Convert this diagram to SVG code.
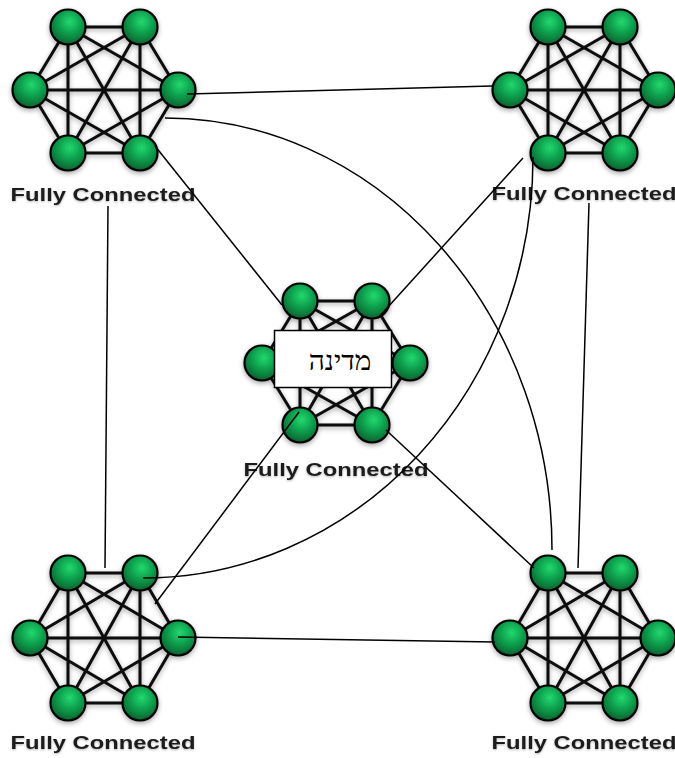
<svg xmlns="http://www.w3.org/2000/svg" xmlns:xlink="http://www.w3.org/1999/xlink" width="675" height="758" viewBox="0 0 675 758">
  <defs>
    <radialGradient id="ball" cx="0.55" cy="0.35" r="0.65">
      <stop offset="0" stop-color="#22d86e"/>
      <stop offset="0.55" stop-color="#0b9a4a"/>
      <stop offset="1" stop-color="#06622f"/>
    </radialGradient>
    <filter id="soft" x="-20%" y="-20%" width="140%" height="140%">
      <feDropShadow dx="0" dy="2" stdDeviation="2.5" flood-color="#000" flood-opacity="0.35"/>
    </filter>
    <filter id="txtsoft" x="-5%" y="-30%" width="110%" height="160%">
      <feDropShadow dx="0" dy="1" stdDeviation="1" flood-color="#000" flood-opacity="0.3"/>
    </filter>
  </defs>
  <style>
    .mesh { stroke: #0a0a0a; stroke-width: 3; fill: none; }
    .ball { fill: url(#ball); stroke: #050505; stroke-width: 2.2; }
    .cap { font-family: "Liberation Sans", Arial, sans-serif; font-weight: bold; font-size: 19px; fill: #1c1c1c; text-anchor: middle; }
    .link { stroke: #000; stroke-width: 1.5; fill: none; }
    .tag { fill: #fff; stroke: #000; stroke-width: 1.5; }
    .tagtext { font-family: "Liberation Serif", "DejaVu Serif", "Noto Sans", serif; font-size: 28px; fill: #000; text-anchor: middle; }
  </style>

  <!-- top-left mesh -->
  <g id="mesh-top-left" transform="translate(104,90)">
    <g filter="url(#soft)">
      <path class="mesh" d="M-36,-63 L36,-63 M-36,-63 L-74,0 M-36,-63 L74,0 M-36,-63 L-36,63 M-36,-63 L36,63 M36,-63 L-74,0 M36,-63 L74,0 M36,-63 L-36,63 M36,-63 L36,63 M-74,0 L74,0 M-74,0 L-36,63 M-74,0 L36,63 M74,0 L-36,63 M74,0 L36,63 M-36,63 L36,63"/>
      <circle class="ball" cx="-36" cy="-63" r="17.5"/>
      <circle class="ball" cx="36" cy="-63" r="17.5"/>
      <circle class="ball" cx="-74" cy="0" r="17.5"/>
      <circle class="ball" cx="74" cy="0" r="17.5"/>
      <circle class="ball" cx="-36" cy="63" r="17.5"/>
      <circle class="ball" cx="36" cy="63" r="17.5"/>
    </g>
    <text class="cap" x="-1" y="111" textLength="185" lengthAdjust="spacingAndGlyphs" filter="url(#txtsoft)">Fully Connected</text>
  </g>

  <!-- top-right mesh -->
  <g id="mesh-top-right" transform="translate(584,90)">
    <g filter="url(#soft)">
      <path class="mesh" d="M-36,-63 L36,-63 M-36,-63 L-74,0 M-36,-63 L74,0 M-36,-63 L-36,63 M-36,-63 L36,63 M36,-63 L-74,0 M36,-63 L74,0 M36,-63 L-36,63 M36,-63 L36,63 M-74,0 L74,0 M-74,0 L-36,63 M-74,0 L36,63 M74,0 L-36,63 M74,0 L36,63 M-36,63 L36,63"/>
      <circle class="ball" cx="-36" cy="-63" r="17.5"/>
      <circle class="ball" cx="36" cy="-63" r="17.5"/>
      <circle class="ball" cx="-74" cy="0" r="17.5"/>
      <circle class="ball" cx="74" cy="0" r="17.5"/>
      <circle class="ball" cx="-36" cy="63" r="17.5"/>
      <circle class="ball" cx="36" cy="63" r="17.5"/>
    </g>
    <text class="cap" x="0" y="110" textLength="185" lengthAdjust="spacingAndGlyphs" filter="url(#txtsoft)">Fully Connected</text>
  </g>

  <!-- centre mesh -->
  <g id="mesh-centre" transform="translate(336,363)">
    <g filter="url(#soft)">
      <path class="mesh" d="M-36,-62 L36,-62 M-36,-62 L-74,0 M-36,-62 L74,0 M-36,-62 L-36,62 M-36,-62 L36,62 M36,-62 L-74,0 M36,-62 L74,0 M36,-62 L-36,62 M36,-62 L36,62 M-74,0 L74,0 M-74,0 L-36,62 M-74,0 L36,62 M74,0 L-36,62 M74,0 L36,62 M-36,62 L36,62"/>
      <circle class="ball" cx="-36" cy="-62" r="17.5"/>
      <circle class="ball" cx="36" cy="-62" r="17.5"/>
      <circle class="ball" cx="-74" cy="0" r="17.5"/>
      <circle class="ball" cx="74" cy="0" r="17.5"/>
      <circle class="ball" cx="-36" cy="62" r="17.5"/>
      <circle class="ball" cx="36" cy="62" r="17.5"/>
    </g>
    <text class="cap" x="0" y="113" textLength="185" lengthAdjust="spacingAndGlyphs" filter="url(#txtsoft)">Fully Connected</text>
  </g>

  <!-- bottom-left mesh -->
  <g id="mesh-bottom-left" transform="translate(104,638)">
    <g filter="url(#soft)">
      <path class="mesh" d="M-36,-65 L36,-65 M-36,-65 L-74,0 M-36,-65 L74,0 M-36,-65 L-36,65 M-36,-65 L36,65 M36,-65 L-74,0 M36,-65 L74,0 M36,-65 L-36,65 M36,-65 L36,65 M-74,0 L74,0 M-74,0 L-36,65 M-74,0 L36,65 M74,0 L-36,65 M74,0 L36,65 M-36,65 L36,65"/>
      <circle class="ball" cx="-36" cy="-65" r="17.5"/>
      <circle class="ball" cx="36" cy="-65" r="17.5"/>
      <circle class="ball" cx="-74" cy="0" r="17.5"/>
      <circle class="ball" cx="74" cy="0" r="17.5"/>
      <circle class="ball" cx="-36" cy="65" r="17.5"/>
      <circle class="ball" cx="36" cy="65" r="17.5"/>
    </g>
    <text class="cap" x="-1" y="111" textLength="185" lengthAdjust="spacingAndGlyphs" filter="url(#txtsoft)">Fully Connected</text>
  </g>

  <!-- bottom-right mesh -->
  <g id="mesh-bottom-right" transform="translate(584,638)">
    <g filter="url(#soft)">
      <path class="mesh" d="M-36,-65 L36,-65 M-36,-65 L-74,0 M-36,-65 L74,0 M-36,-65 L-36,65 M-36,-65 L36,65 M36,-65 L-74,0 M36,-65 L74,0 M36,-65 L-36,65 M36,-65 L36,65 M-74,0 L74,0 M-74,0 L-36,65 M-74,0 L36,65 M74,0 L-36,65 M74,0 L36,65 M-36,65 L36,65"/>
      <circle class="ball" cx="-36" cy="-65" r="17.5"/>
      <circle class="ball" cx="36" cy="-65" r="17.5"/>
      <circle class="ball" cx="-74" cy="0" r="17.5"/>
      <circle class="ball" cx="74" cy="0" r="17.5"/>
      <circle class="ball" cx="-36" cy="65" r="17.5"/>
      <circle class="ball" cx="36" cy="65" r="17.5"/>
    </g>
    <text class="cap" x="0" y="111" textLength="185" lengthAdjust="spacingAndGlyphs" filter="url(#txtsoft)">Fully Connected</text>
  </g>

  <!-- links between the meshes -->
  <g id="links">
    <line class="link" x1="187" y1="94" x2="492" y2="86"/>
    <path class="link" d="M165,118 A387,432 0 0 1 552,550"/>
    <line class="link" x1="155" y1="146" x2="282" y2="305"/>
    <line class="link" x1="108" y1="206" x2="105" y2="568"/>
    <line class="link" x1="523" y1="158" x2="378" y2="318"/>
    <path class="link" d="M533,157 A390,421 0 0 1 143,578"/>
    <line class="link" x1="589" y1="203" x2="578" y2="568"/>
    <line class="link" x1="299" y1="412" x2="155" y2="604"/>
    <line class="link" x1="178" y1="637" x2="495" y2="642"/>
    <line class="link" x1="386" y1="430" x2="534" y2="568"/>
  </g>

  <!-- name tag on the centre mesh -->
  <g id="tag-centre">
    <rect class="tag" x="274.5" y="330.5" width="117" height="57"/>
    <text class="tagtext" x="340" y="370">מדינה</text>
  </g>
</svg>
